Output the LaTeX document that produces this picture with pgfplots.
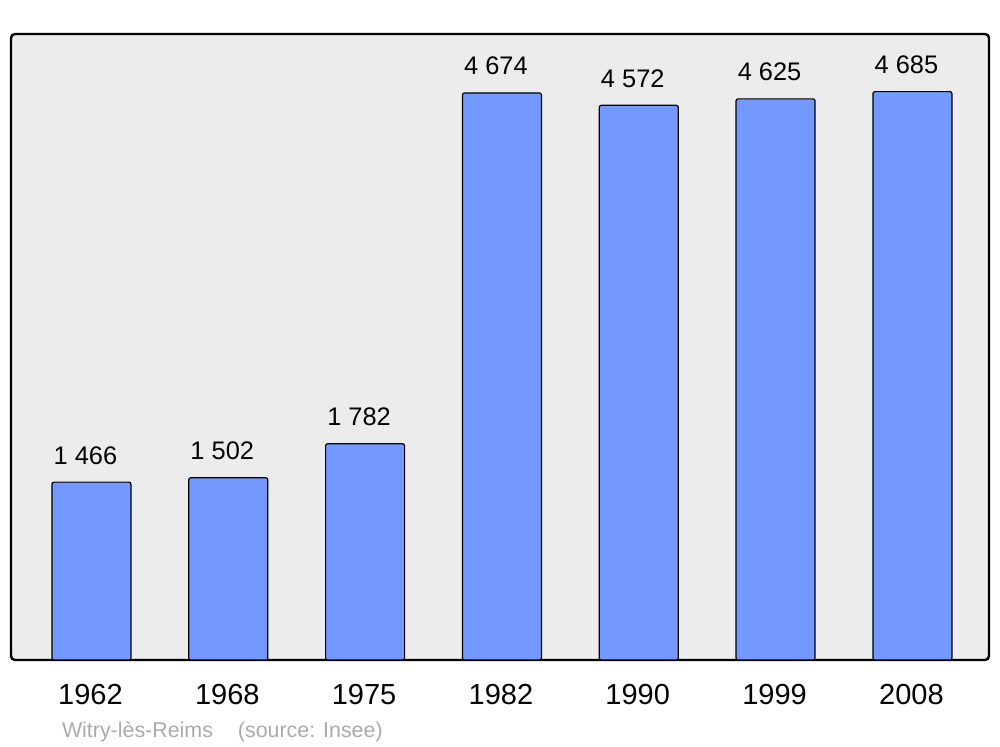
\documentclass[border=0pt]{standalone}
\usepackage{pgfplots}
\pgfplotsset{compat=1.18}
\usepackage{pgfplotstable}
\usepackage{fontspec}
\setmainfont{Liberation Sans}
\definecolor{barblue}{HTML}{7399FF}
\definecolor{bgc}{HTML}{ECECEC}
\definecolor{foot}{HTML}{AAAAAA}
\pgfplotstableread[col sep=comma]{
x,y,label
0,1466,1 466
1,1502,1 502
2,1782,1 782
3,4674,4 674
4,4572,4 572
5,4625,4 625
6,4685,4 685
}\data
\begin{document}
\begin{tikzpicture}
\path[use as bounding box] (0,0) rectangle (500pt,373.5pt);
\begin{axis}[
  at={(5.5pt,43.5pt)}, anchor=south west,
  width=489pt, height=313pt, scale only axis,
  xmin=-0.588, xmax=6.56, ymin=0, ymax=5160,
  axis background/.style={fill=bgc},
  axis line style={line width=1.2pt, rounded corners=2pt},
  ytick=\empty,
  xtick={0,1,2,3,4,5,6},
  xticklabels={1962,1968,1975,1982,1990,1999,2008},
  major tick length=0pt,
  xticklabel style={anchor=base, xshift=-0.5pt, yshift=-22.5pt, font=\fontsize{14.5}{16}\selectfont},
  nodes near coords,
  point meta=explicit symbolic,
  every node near coord/.append style={anchor=base, xshift=-3pt, yshift=9pt, font=\fontsize{12.7}{14}\selectfont, text=black},
  clip=false,
]
\addplot[ybar, bar width=39.5pt, fill=barblue, draw=black, line width=0.6pt, rounded corners=1pt]
  table[x=x, y=y, meta=label] {\data};
\end{axis}
\node[anchor=base west, text=foot, font=\fontsize{10.7}{12}\selectfont, inner sep=0pt] at (30.8pt,4.5pt) {Witry-lès-Reims\hspace{12.5pt}(source: Insee)};
\end{tikzpicture}
\end{document}
